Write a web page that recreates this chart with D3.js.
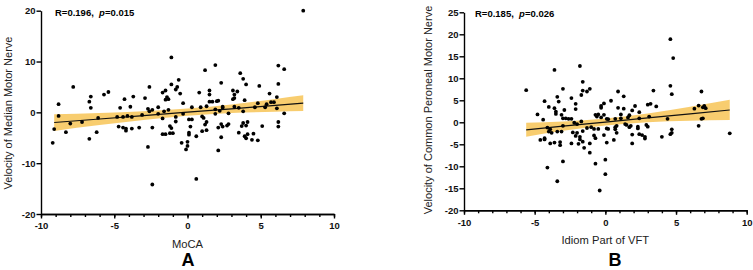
<!DOCTYPE html>
<html>
<head>
<meta charset="utf-8">
<script src="https://cdn.jsdelivr.net/npm/d3@7"></script>
<style>
  body { margin: 0; background: #fff; }
  text { font-family: "Liberation Sans", Arial, sans-serif; }
  .axis path, .axis line { stroke: #000; stroke-width: 1.4; }
  .axis text { font-size: 9.5px; font-weight: bold; fill: #111; }
</style>
</head>
<body>
<div id="chart"></div>
<script>
// Panel A: MoCA vs velocity of median motor nerve  [x, y]
const panelAPoints = [
  [7.9,20.0],[-1.1,10.8],[1.9,9.3],[1.2,8.3],[6.2,9.2],[6.6,8.5],[3.6,7.7],[3.8,6.6],[-0.6,6.4],[4.0,5.5],
  [2.3,5.8],[6.2,5.6],[4.9,5.2],[-1.1,5.5],[-0.7,5.0],[-0.8,4.5],[-2.6,5.0],[-7.8,5.0],[-5.4,4.0],[-5.7,3.5],
  [-6.6,3.1],[-6.7,2.1],[-6.6,0.9],[-3.7,3.1],[-4.3,2.6],[-2.9,2.8],[-1.7,3.9],[-1.5,4.3],[1.5,4.3],[0.8,3.9],
  [1.5,3.5],[3.1,4.3],[3.4,4.1],[3.2,3.5],[5.6,3.7],[6.1,3.0],[-1.4,3.0],[-1.3,2.6],[-1.5,2.5],[-8.8,1.6],
  [-0.5,3.7],[-0.3,1.8],[1.5,2.1],[2.0,2.2],[2.1,2.3],[1.7,2.1],[3.1,2.6],[3.9,2.4],[5.7,2.0],[5.9,2.0],
  [5.4,1.6],[4.8,1.8],[3.2,2.8],[4.6,1.0],[6.1,0.8],[6.6,-0.2],[6.2,-1.9],[6.2,-2.8],[5.1,-2.7],[4.5,-4.2],
  [4.4,-5.4],[4.8,-5.5],[4.0,-5.1],[3.9,-4.7],[4.1,-4.3],[4.0,-2.6],[3.8,-2.1],[3.7,-2.7],[3.5,-4.0],[3.8,0.2],
  [3.5,0.9],[3.2,1.1],[2.8,-2.3],[2.7,-2.6],[2.3,-2.3],[2.4,-2.8],[2.4,0.9],[2.4,1.1],[2.2,0.3],[1.9,-0.3],
  [2.1,-3.0],[2.3,-4.9],[2.1,-7.5],[1.3,-1.9],[1.2,-2.4],[1.3,-3.5],[1.0,-3.7],[1.1,-1.1],[1.0,-0.8],[0.9,1.0],
  [1.3,1.2],[1.9,0.6],[0.3,1.0],[0.6,-4.7],[0.6,-13.1],[0.1,-1.4],[0.3,-1.4],[0.2,-2.8],[0.1,-4.0],[0.1,-4.4],
  [0.0,-5.8],[0.0,-6.6],[-0.1,-7.3],[-0.4,-6.0],[-0.3,-0.3],[-0.8,-0.9],[-0.8,-1.8],[-1.2,-2.7],[-1.1,-3.1],[-1.2,-4.1],
  [-1.0,-4.1],[-1.5,-4.3],[-1.7,-4.3],[-1.7,-1.2],[-2.0,-0.3],[-1.6,0.2],[-1.3,0.5],[-2.0,1.0],[-2.4,0.5],[-2.6,0.2],
  [-2.7,0.7],[-2.4,-3.0],[-2.7,-6.8],[-2.4,-14.2],[-3.1,-0.5],[-3.8,-0.9],[-3.8,-3.2],[-4.1,-0.7],[-4.4,-0.9],[-4.2,-3.2],
  [-4.2,-3.6],[-4.4,-3.0],[-4.7,-2.8],[-4.8,-0.9],[-4.6,0.9],[-3.9,1.1],[-3.3,-3.0],[-6.1,-1.1],[-6.2,-3.9],[-6.7,-5.2],
  [-7.2,-1.9],[-8.0,-2.2],[-8.3,-3.9],[-8.8,-0.7],[-9.1,-3.3],[-9.2,-6.0],[2.8,-0.2],[4.1,-1.9],[5.3,1.0]
];
// fitted line and 95% band of panel A
const fitAX = [-9.1, -6, -3, 0, 3, 6, 7.9];
const fitAY = [-2.0, -1.31, -0.64, 0.03, 0.7, 1.37, 1.8];
const fitALo = [-3.65, -2.51, -1.49, -0.69, -0.15, 0.12, 0.25];
const fitAHi = [-0.35, -0.11, 0.21, 0.75, 1.55, 2.62, 3.35];

// Panel B: idiom part of VFT vs velocity of common peroneal motor nerve  [x, y]
const panelBPoints = [
  [4.6,18.9],[4.8,14.6],[-3.6,11.9],[-1.8,12.8],[-1.6,9.2],[-1.6,7.2],[-1.3,7.0],[-1.1,7.6],[-1.7,6.2],[-3.0,7.6],
  [-5.6,7.3],[0.9,7.0],[3.4,7.2],[6.8,7.0],[4.6,8.3],[4.7,6.4],[-3.4,5.8],[-2.4,5.5],[0.4,4.9],[1.3,5.9],
  [-4.3,4.8],[-3.3,4.7],[-2.1,4.2],[-0.1,4.3],[-0.3,3.7],[-0.3,3.3],[-4.0,3.5],[-3.6,3.2],[-2.9,2.8],[-2.1,3.0],
  [0.9,3.3],[1.3,3.1],[2.1,3.7],[3.0,4.0],[3.2,4.2],[3.6,3.6],[6.3,3.1],[6.6,3.8],[6.9,3.4],[7.0,3.7],
  [7.1,3.2],[1.1,1.8],[1.9,2.7],[1.7,1.6],[2.4,2.3],[3.1,1.3],[-4.8,1.8],[-3.5,1.9],[-4.4,0.6],[-3.1,1.7],
  [-3.0,0.9],[-2.8,0.9],[-2.6,0.8],[-2.4,0.8],[-0.7,1.7],[-0.5,1.8],[-0.6,1.3],[-0.3,1.1],[-0.1,1.7],[0.1,0.8],
  [0.2,0.7],[0.7,0.8],[1.1,0.9],[1.6,1.1],[2.4,0.9],[4.4,0.8],[6.8,0.8],[6.9,0.9],[-1.7,0.2],[-2.0,-0.4],
  [-1.3,-1.3],[-1.0,-1.1],[-0.8,-1.5],[-0.5,-1.5],[0.1,-1.4],[0.2,-1.5],[0.7,-1.1],[0.7,-1.6],[0.8,-0.8],[1.4,-0.4],
  [1.5,-0.6],[1.7,-1.1],[1.8,-0.8],[2.3,-1.0],[2.3,-1.4],[2.9,-0.6],[3.0,-1.0],[4.7,-1.6],[4.7,-2.4],[4.6,-2.7],
  [6.6,-0.8],[8.8,-2.5],[-4.1,-1.2],[-3.9,-1.6],[-4.0,-2.1],[-3.8,-2.4],[-3.4,-2.1],[-3.1,-2.1],[-3.0,-0.8],[-2.3,-2.3],
  [-2.0,-2.4],[-1.6,-2.0],[-1.8,-3.3],[-2.1,-3.1],[-1.8,-3.9],[-1.6,-4.4],[-1.5,-5.8],[-1.9,-4.9],[-1.1,-4.8],[-0.8,-3.0],
  [-0.7,-3.6],[-0.1,-2.9],[0.1,-4.6],[0.6,-4.0],[0.8,-2.4],[1.9,-2.8],[1.9,-4.8],[2.4,-2.7],[2.6,-2.9],[2.8,-3.3],
  [2.8,-3.7],[4.0,-3.3],[-4.6,-4.0],[-4.3,-3.9],[-4.3,-3.6],[-3.9,-4.8],[-3.6,-4.6],[-3.2,-4.5],[-3.2,-5.2],[-2.4,-4.8],
  [-1.1,-6.9],[-3.0,-8.9],[-0.7,-9.4],[0.0,-8.5],[0.0,-11.8],[-4.1,-10.3],[-3.4,-13.4],[-0.4,-15.5],[-2.2,-0.1],[-3.5,2.4]
];
const fitBX = [-5.6, -3, 0, 3, 6, 8.8];
const fitBY = [-1.7, -0.89, 0.05, 0.99, 1.93, 2.8];
const fitBLo = [-3.3, -1.94, -0.75, -0.01, 0.33, 0.5];
const fitBHi = [-0.1, 0.16, 0.85, 1.99, 3.53, 5.1];

const xTicks = [-10, -5, 0, 5, 10];
const xMinorTicks = d3.range(-10, 11, 1);
const yTicksA = [-20, -10, 0, 10, 20];
const yTicksB = [-20, -15, -10, -5, 0, 5, 10, 15, 20, 25];

class ScatterPanel {
  constructor(_config) {
    this.config = _config;
    this.initVis();
  }

  initVis() {
    const vis = this;
    const c = vis.config;

    vis.xScale = d3.scaleLinear().domain([-10, 10]).range(c.xRange);
    vis.yScale = d3.scaleLinear().domain(c.yDomain).range(c.yRange);

    vis.g = c.svg.append('g');

    // minor ticks on x
    const minorAxis = d3.axisBottom(vis.xScale)
        .tickValues(xMinorTicks)
        .tickSize(3)
        .tickSizeOuter(0)
        .tickFormat('');
    vis.g.append('g')
        .attr('class', 'axis')
        .attr('transform', `translate(0,${c.yRange[0]})`)
        .call(minorAxis);

    const xAxis = d3.axisBottom(vis.xScale)
        .tickValues(xTicks)
        .tickSize(4.5)
        .tickPadding(4)
        .tickSizeOuter(0)
        .tickFormat((d) => String(d));
    vis.g.append('g')
        .attr('class', 'axis')
        .attr('transform', `translate(0,${c.yRange[0]})`)
        .call(xAxis);

    const yAxis = d3.axisLeft(vis.yScale)
        .tickValues(c.yTicks)
        .tickSize(4.5)
        .tickPadding(1)
        .tickSizeOuter(0)
        .tickFormat((d) => String(d));
    vis.g.append('g')
        .attr('class', 'axis')
        .attr('transform', `translate(${c.xRange[0]},0)`)
        .call(yAxis);

    vis.renderVis();
  }

  renderVis() {
    const vis = this;
    const c = vis.config;
    const band = c.fitX.map((x, i) => ({ x: x, y: c.fitY[i], lo: c.fitLo[i], hi: c.fitHi[i] }));

    const area = d3.area()
        .x((d) => vis.xScale(d.x))
        .y0((d) => vis.yScale(d.lo))
        .y1((d) => vis.yScale(d.hi))
        .curve(d3.curveMonotoneX);

    vis.g.append('path')
        .datum(band)
        .attr('d', area)
        .attr('fill', '#f7c85f')
        .attr('opacity', 0.9);

    vis.g.append('path')
        .datum(band)
        .attr('d', d3.line().x((d) => vis.xScale(d.x)).y((d) => vis.yScale(d.y)))
        .attr('fill', 'none')
        .attr('stroke', '#111')
        .attr('stroke-width', 1.2);

    vis.g.selectAll('circle')
        .data(c.points)
        .join('circle')
        .attr('cx', (d) => vis.xScale(d[0]))
        .attr('cy', (d) => vis.yScale(d[1]))
        .attr('r', 1.9)
        .attr('fill', '#000');

    // stats label
    const stat = vis.g.append('text')
        .attr('x', c.statPos[0])
        .attr('y', c.statPos[1])
        .attr('font-size', 9.5)
        .attr('font-weight', 'bold')
        .style('white-space', 'pre');
    stat.append('tspan').text(c.stat[0]);
    stat.append('tspan').attr('font-style', 'italic').text('p');
    stat.append('tspan').text(c.stat[1]);

    // axis titles
    vis.g.append('text')
        .attr('x', d3.mean(c.xRange))
        .attr('y', c.xTitleY)
        .attr('text-anchor', 'middle')
        .attr('font-size', 11.2)
        .attr('fill', '#222')
        .text(c.xTitle);

    vis.g.append('text')
        .attr('transform', `translate(${c.yTitlePos[0]},${c.yTitlePos[1]}) rotate(-90)`)
        .attr('text-anchor', 'middle')
        .attr('font-size', 11)
        .attr('fill', '#222')
        .text(c.yTitle);

    vis.g.append('text')
        .attr('x', c.letterPos[0])
        .attr('y', c.letterPos[1])
        .attr('text-anchor', 'middle')
        .attr('font-size', 18)
        .attr('font-weight', 'bold')
        .text(c.letter);
  }
}

const svg = d3.select('#chart').append('svg')
    .attr('width', 753)
    .attr('height', 270);

new ScatterPanel({
  svg: svg,
  points: panelAPoints,
  fitX: fitAX, fitY: fitAY, fitLo: fitALo, fitHi: fitAHi,
  xRange: [41, 334],
  yDomain: [-20, 20],
  yRange: [214, 10.7],
  yTicks: yTicksA,
  stat: ['R=0.196,  ', '=0.015'],
  statPos: [55, 16],
  xTitle: 'MoCA',
  xTitleY: 248,
  yTitle: 'Velocity of Median Motor Nerve',
  yTitlePos: [12, 113],
  letter: 'A',
  letterPos: [188, 266],
});

new ScatterPanel({
  svg: svg,
  points: panelBPoints,
  fitX: fitBX, fitY: fitBY, fitLo: fitBLo, fitHi: fitBHi,
  xRange: [464, 746.7],
  yDomain: [-20, 25],
  yRange: [210.3, 12.3],
  yTicks: yTicksB,
  stat: ['R=0.185,  ', '=0.026'],
  statPos: [475, 17],
  xTitle: 'Idiom Part of VFT',
  xTitleY: 244,
  yTitle: 'Velocity of Common Peroneal Motor Nerve',
  yTitlePos: [432, 110],
  letter: 'B',
  letterPos: [615, 266],
});
</script>
</body>
</html>
